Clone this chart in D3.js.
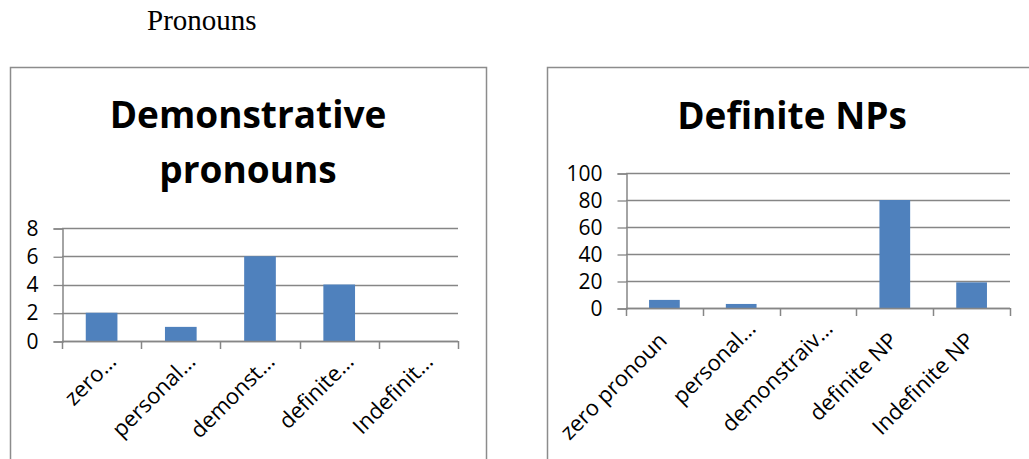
<!DOCTYPE html>
<html lang="en">

<head>
    <meta charset="UTF-8">
    <title>Pronouns</title>
    <script src="https://cdn.jsdelivr.net/npm/d3@7"></script>
    <style>
        body { margin: 0; background: #fff; }
    </style>
</head>

<body>
    <svg id="main" width="1029" height="459"></svg>
    <script>
        // data
        const demCategories = ['zero…', 'personal…', 'demonst…', 'definite…', 'Indefinit…'];
        const demValues = [2, 1, 6, 4, 0];
        const demTicks = [0, 2, 4, 6, 8];

        const defCategories = ['zero pronoun', 'personal…', 'demonstraiv…', 'definite NP', 'Indefinite NP'];
        const defValues = [6, 3, 0, 80, 19];
        const defTicks = [0, 20, 40, 60, 80, 100];

        const svg = d3.select('#main');
        const barColor = '#4f81bd';
        const gridColor = '#868686';
        const labelFont = '"Open Sans", sans-serif';

        svg.append('text')
            .attr('x', 147)
            .attr('y', 30)
            .attr('font-family', '"Liberation Serif", serif')
            .attr('font-size', 29)
            .text('Pronouns');

        function drawChart(opt) {
            const g = svg.append('g');

            // outer frame
            g.append('rect')
                .attr('x', opt.box[0] + 0.5)
                .attr('y', opt.box[1] + 0.5)
                .attr('width', opt.box[2])
                .attr('height', opt.box[3])
                .attr('fill', 'white')
                .attr('stroke', '#8c8c8c')
                .attr('stroke-width', 1.5);

            // title
            opt.title.forEach((t, i) => {
                g.append('text')
                    .attr('x', opt.titleX)
                    .attr('y', opt.titleY[i])
                    .attr('text-anchor', 'middle')
                    .attr('font-family', labelFont)
                    .attr('font-weight', 'bold')
                    .attr('font-size', 37)
                    .text(t);
            });

            const x = d3.scaleBand()
                .domain(opt.categories)
                .range([opt.x0, opt.x1])
                .paddingInner(0.6)
                .paddingOuter(0.3);
            const y = d3.scaleLinear()
                .domain([0, d3.max(opt.ticks)])
                .range([opt.y0, opt.yTop]);

            // gridlines
            g.selectAll('.grid')
                .data(opt.ticks)
                .enter()
                .append('line')
                .attr('x1', opt.x0)
                .attr('x2', opt.x1)
                .attr('y1', d => Math.round(y(d)) + 0.5)
                .attr('y2', d => Math.round(y(d)) + 0.5)
                .attr('stroke', gridColor)
                .attr('stroke-width', 1.3);

            // bars
            g.selectAll('.bar')
                .data(opt.values)
                .enter()
                .append('rect')
                .attr('x', (d, i) => x(opt.categories[i]))
                .attr('y', d => y(d))
                .attr('width', x.bandwidth())
                .attr('height', d => opt.y0 - y(d))
                .attr('fill', barColor);

            // y axis
            const yAxis = d3.axisLeft(y)
                .tickValues(opt.ticks)
                .tickSize(9)
                .tickPadding(15);
            const ya = g.append('g')
                .attr('transform', `translate(${opt.x0 + 0.5},0.5)`)
                .call(yAxis);
            ya.select('.domain').attr('stroke', gridColor).attr('stroke-width', 1.5);
            ya.selectAll('.tick line').attr('stroke', gridColor).attr('stroke-width', 1.3);
            ya.selectAll('.tick text')
                .attr('font-family', labelFont)
                .attr('font-size', 21)
                .attr('fill', '#000');

            // x axis line and boundary ticks
            g.append('line')
                .attr('x1', opt.x0)
                .attr('x2', opt.x1)
                .attr('y1', opt.y0 + 0.5)
                .attr('y2', opt.y0 + 0.5)
                .attr('stroke', gridColor)
                .attr('stroke-width', 1.5);
            const bounds = d3.range(opt.categories.length + 1).map(i => opt.x0 + i * x.step());
            g.selectAll('.xtick')
                .data(bounds)
                .enter()
                .append('line')
                .attr('x1', d => Math.round(d) + 0.5)
                .attr('x2', d => Math.round(d) + 0.5)
                .attr('y1', opt.y0)
                .attr('y2', opt.y0 + 8)
                .attr('stroke', gridColor)
                .attr('stroke-width', 1.5);

            // rotated category labels
            g.selectAll('.xlabel')
                .data(opt.categories)
                .enter()
                .append('text')
                .attr('transform', d => {
                    const cx = x(d) + x.bandwidth() / 2 + 4;
                    const cy = opt.y0 + 34;
                    const shift = d.endsWith('…') ? 17 : 0;
                    return `translate(${cx},${cy}) rotate(-45) translate(${shift},0)`;
                })
                .attr('text-anchor', 'end')
                .attr('font-family', labelFont)
                .attr('font-size', 22)
                .text(d => d);
        }

        drawChart({
            box: [10, 67, 476, 395],
            title: ['Demonstrative', 'pronouns'],
            titleX: 248,
            titleY: [128, 183],
            categories: demCategories,
            values: demValues,
            ticks: demTicks,
            x0: 62, x1: 458, yTop: 228, y0: 341
        });

        drawChart({
            box: [547, 67, 495, 395],
            title: ['Definite NPs'],
            titleX: 792,
            titleY: [129],
            categories: defCategories,
            values: defValues,
            ticks: defTicks,
            x0: 626, x1: 1010, yTop: 173, y0: 308
        });
    </script>
</body>

</html>
